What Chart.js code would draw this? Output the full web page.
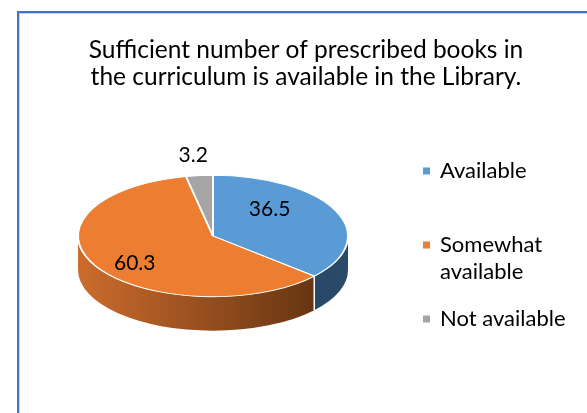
<!DOCTYPE html>
<html>
<head>
<meta charset="utf-8">
<script src="https://cdn.jsdelivr.net/npm/chart.js@4.4.1/dist/chart.umd.min.js"></script>
<style>
  html, body { margin: 0; padding: 0; background: #fff; }
  #wrap { position: relative; width: 587px; height: 413px; overflow: hidden; }
  #frame {
    position: absolute; left: 17px; top: 11px; width: 600px; height: 420px;
    border-left: 2px solid #4472C4; border-top: 2px solid #4472C4;
    box-shadow: inset 1px 1px 0 #C5D3EE;
  }
  canvas { position: absolute; left: 0; top: 0; }
</style>
</head>
<body>
<div id="wrap">
  <div id="frame"></div>
  <canvas id="pieChart" width="587" height="413"></canvas>
</div>
<script>
  // chart data
  const titleLines = ['Sufficient number of prescribed books in', 'the curriculum is available in the Library.'];
  const categories = ['Available', 'Somewhat available', 'Not available'];
  const legendLines = [['Available'], ['Somewhat', 'available'], ['Not available']];
  const percentages = [36.5, 60.3, 3.2];

  // colours
  const topColors = ['#5B9BD5', '#ED7D31', '#A5A5A5'];
  const sideColors = [['#1E3855', '#2A4A6A'], ['#CC6C2C', '#582D0F'], ['#6E6E6E', '#5A5A5A']];

  // 3D look
  const TILT = 0.45;      // vertical squash of the top face
  const DEPTH = 34;       // thickness of the pie in px
  // where each value label sits, as factors of x and y radius along the slice middle
  const labelFactors = [[0.46, 1.07], [0.67, 0.885], [1.46, 1.33]];
  const FONT = 'Lato, "Noto Sans", sans-serif';

  // squash the pie into an ellipse and add the side walls
  const pie3d = {
    id: 'pie3d',
    beforeDatasetsDraw(chart) {
      const ctx = chart.ctx;
      const arcs = chart.getDatasetMeta(0).data;
      arcs.forEach((arc, i) => {
        const a = Math.max(arc.startAngle, 0);
        const b = Math.min(arc.endAngle, Math.PI);
        if (b <= a) return;
        const r = arc.outerRadius;
        const grad = ctx.createLinearGradient(arc.x - r, 0, arc.x + r, 0);
        grad.addColorStop(0, sideColors[i][0]);
        grad.addColorStop(1, sideColors[i][1]);
        ctx.save();
        ctx.beginPath();
        ctx.ellipse(arc.x, arc.y, r, r * TILT, 0, a, b, false);
        ctx.ellipse(arc.x, arc.y + DEPTH, r, r * TILT, 0, b, a, true);
        ctx.closePath();
        ctx.fillStyle = grad;
        ctx.fill();
        // white seam where a slice edge meets the front wall
        ctx.strokeStyle = '#fff';
        ctx.lineWidth = 1.5;
        [arc.startAngle, arc.endAngle].forEach(t => {
          if (t > 0.02 && t < Math.PI - 0.02) {
            const x = arc.x + r * Math.cos(t), y = arc.y + r * TILT * Math.sin(t);
            ctx.beginPath();
            ctx.moveTo(x, y);
            ctx.lineTo(x, y + DEPTH);
            ctx.stroke();
          }
        });
        ctx.restore();
      });
    },
    beforeDatasetDraw(chart, args) {
      const arc = args.meta.data[0];
      const ctx = chart.ctx;
      ctx.save();
      ctx.translate(arc.x, arc.y);
      ctx.scale(1, TILT);
      ctx.translate(-arc.x, -arc.y);
    },
    afterDatasetDraw(chart) {
      chart.ctx.restore();
    },
    afterDraw(chart) {
      const ctx = chart.ctx;
      const arcs = chart.getDatasetMeta(0).data;
      ctx.save();
      ctx.fillStyle = '#000';
      ctx.textAlign = 'center';
      ctx.textBaseline = 'middle';

      // title
      ctx.font = '24.5px ' + FONT;
      titleLines.forEach((t, i) => ctx.fillText(t, 306, 50 + i * 27));

      // value labels
      ctx.font = '21px ' + FONT;
      arcs.forEach((arc, i) => {
        const mid = (arc.startAngle + arc.endAngle) / 2;
        const r = arc.outerRadius;
        const x = arc.x + r * labelFactors[i][0] * Math.cos(mid);
        const y = arc.y + r * TILT * labelFactors[i][1] * Math.sin(mid);
        ctx.fillText(chart.data.datasets[0].data[i].toFixed(1), x, y);
      });

      // legend
      const rowY = [171, 245, 319];
      ctx.textAlign = 'left';
      ctx.font = '22px ' + FONT;
      legendLines.forEach((lines, i) => {
        ctx.fillStyle = topColors[i];
        ctx.fillRect(423, rowY[i] - 3.5, 7, 7);
        ctx.fillStyle = '#000';
        lines.forEach((t, j) => ctx.fillText(t, 440, rowY[i] + j * 27));
      });
      ctx.restore();
    }
  };

  new Chart(document.getElementById('pieChart'), {
    type: 'pie',
    data: {
      labels: categories,
      datasets: [{
        data: percentages,
        backgroundColor: topColors,
        borderColor: '#fff',
        borderWidth: 2,
        clip: false
      }]
    },
    options: {
      responsive: false,
      animation: false,
      events: [],
      layout: { padding: { left: 77, right: 238, top: 100, bottom: 41 } },
      plugins: {
        legend: { display: false },
        title: { display: false },
        tooltip: { enabled: false }
      }
    },
    plugins: [pie3d]
  });
</script>
</body>
</html>
